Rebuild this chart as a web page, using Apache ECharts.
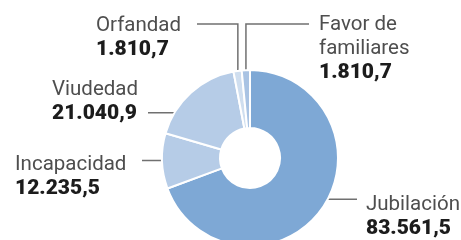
<!DOCTYPE html>
<html>
<head>
<meta charset="utf-8">
<script src="https://cdn.jsdelivr.net/npm/echarts@6/dist/echarts.min.js"></script>
<style>
  html, body { margin: 0; padding: 0; background: #fff; }
  #chart { width: 461px; height: 240px; }
</style>
</head>
<body>
<div id="chart"></div>
<script>
// datos (millones de euros)
var categories = ['Jubilación', 'Incapacidad', 'Viudedad', 'Orfandad', 'Favor de\nfamiliares'];
var values = [83561.5, 12235.5, 21040.9, 1810.7, 1810.7];
var colors = ['#7ea8d5', '#b6cce7', '#b6cce7', '#cfdeef', '#a9c3e3'];

// donde va cada etiqueta (solo maquetacion)
var spots = [
  { x: 366, y: 193, r: 72, lineTo: 357 },
  { x: 15, y: 153, r: 74, lineTo: 142 },
  { x: 52, y: 78, r: 61, lineTo: 148 },
  { x: 96, y: 14, r: 86, lineTo: 197, elbowY: 24 },
  { x: 319, y: 13, r: 86, lineTo: 309, elbowY: 24 }
];

var center = [250, 158];

function fmt(v) {
  var parts = v.toFixed(1).split('.');
  var ent = parts[0].replace(/\B(?=(\d{3})+(?!\d))/g, '.');
  return ent + ',' + parts[1];
}

// angulo medio de cada porcion, desde arriba y en sentido horario
var total = values.reduce(function (a, b) { return a + b; }, 0);
var midAngles = [];
var acc = 0;
values.forEach(function (v) {
  midAngles.push((acc + v / 2) / total * 2 * Math.PI);
  acc += v;
});

var chart = echarts.init(document.getElementById('chart'));
var option = {
  animation: false,
  series: [
    {
      type: 'pie',
      center: center,
      radius: [30, 88],
      startAngle: 90,
      clockwise: true,
      avoidLabelOverlap: false,
      itemStyle: {
        borderColor: '#fff',
        borderWidth: 2
      },
      label: {
        show: true,
        position: 'outside',
        formatter: function (p) {
          var lines = p.name.split('\n').map(function (s) { return '{n|' + s + '}'; });
          lines.push('{v|' + fmt(p.value) + '}');
          return lines.join('\n');
        },
        rich: {
          n: { fontFamily: 'Roboto', fontSize: 20.5, color: '#4e4e4e', lineHeight: 24 },
          v: { fontFamily: 'Roboto', fontSize: 21, fontWeight: 900, color: '#1c1c1c', lineHeight: 24 }
        }
      },
      labelLine: {
        show: true,
        showAbove: true,
        smooth: false,
        lineStyle: { color: '#707070', width: 1.5 }
      },
      labelLayout: function (params) {
        var i = params.dataIndex;
        var s = spots[i];
        var a = midAngles[i];
        var ax = center[0] + s.r * Math.sin(a);
        var ay = center[1] - s.r * Math.cos(a);
        var pts;
        if (s.elbowY !== undefined) {
          pts = [[ax, ay], [ax, s.elbowY], [s.lineTo, s.elbowY]];
        } else {
          pts = [[ax, ay], [(ax + s.lineTo) / 2, ay], [s.lineTo, ay]];
        }
        return {
          x: s.x,
          y: s.y,
          align: 'left',
          verticalAlign: 'top',
          labelLinePoints: pts
        };
      },
      data: categories.map(function (c, i) {
        return { name: c, value: values[i], itemStyle: { color: colors[i] } };
      })
    }
  ]
};
chart.setOption(option);
</script>
</body>
</html>
